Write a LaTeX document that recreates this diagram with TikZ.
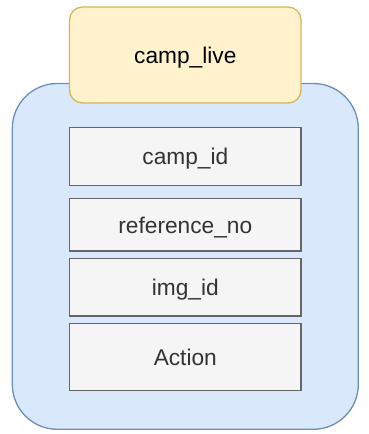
\documentclass[tikz,border=0pt]{standalone}
\usepackage{fontspec}
\setmainfont{Liberation Sans}
\definecolor{bluefill}{HTML}{DAE8FC}
\definecolor{bluedraw}{HTML}{6C8EBF}
\definecolor{yfill}{HTML}{FFF2CC}
\definecolor{ydraw}{HTML}{D6B656}
\definecolor{gfill}{HTML}{F5F5F5}
\definecolor{gdraw}{HTML}{666666}
\definecolor{gtext}{HTML}{333333}
\begin{document}
\begin{tikzpicture}[x=1pt,y=-1pt,
  field/.style={draw=gdraw,fill=gfill,line width=1.3pt,text=gtext,font=\fontsize{22.7}{26}\selectfont,text height=16.3pt,text depth=0pt,inner sep=0pt},
  outer/.style={draw=bluedraw,fill=bluefill,line width=1.3pt,rounded corners=45pt},
  title/.style={draw=ydraw,fill=yfill,line width=1.3pt,rounded corners=13pt,font=\fontsize{22.7}{26}\selectfont,text height=16.3pt,text depth=0pt,inner sep=0pt}]
\useasboundingbox (0,0) rectangle (368,434);
\draw[outer] (12.3,83.5) rectangle (358.3,429.3);
\node[title,minimum width=231.5pt,minimum height=96pt] (t) at (185.3,55) {camp\_live};
\node[field,minimum width=231.3pt,minimum height=58.4pt] (a) at (185.3,156.5) {camp\_id};
\node[field,minimum width=231.3pt,minimum height=52.3pt] (b) at (185.3,224.85) {reference\_no};
\node[field,minimum width=231.3pt,minimum height=57.7pt] (c) at (185.3,287.15) {img\_id};
\node[field,minimum width=231.3pt,minimum height=67.4pt] (d) at (185.3,357) {Action};
\end{tikzpicture}
\end{document}
